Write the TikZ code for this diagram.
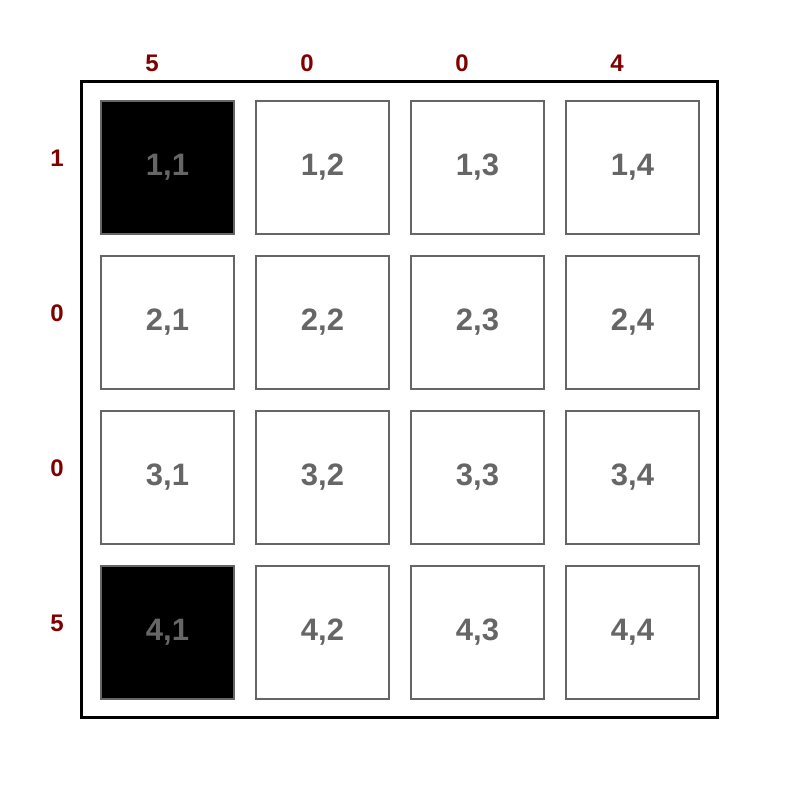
\documentclass[tikz,border=0pt]{standalone}
\usepackage{fontspec}
\setmainfont{Liberation Sans}
\usetikzlibrary{positioning}
\definecolor{gridGray}{RGB}{102, 102, 102}
\definecolor{sumRed}{RGB}{128, 0, 0}
\tikzset{
    cell/.style={
        rectangle,
        draw=gridGray,
        line width=1pt,
        minimum size=66.5pt,
        inner sep=0pt,
        font=\fontsize{15.5}{17}\selectfont\bfseries,
        text=gridGray
    },
    % shaded cells
    cell11/.style={fill=black},
    cell41/.style={fill=black},
    sumlabel/.style={
        font=\fontsize{12}{14}\selectfont\bfseries,
        text=sumRed,
        inner sep=0pt
    }
}

\begin{document}
\begin{tikzpicture}[x=0.5pt, y=-0.5pt]
    \useasboundingbox (0,0) rectangle (800,800);

    % Outer frame
    \draw[line width=1.6pt] (81.5,81.5) rectangle (717.5,717.5);

    % Cells
    \foreach \r in {1,...,4} {
        \foreach \c in {1,...,4} {
            \node[cell, cell\r\c/.try] (c\r\c) at ({167.5+155*(\c-1)}, {167.5+155*(\r-1)}) {\r,\c};
        }
    }

    % Column sums
    \foreach \c/\v in {1/5, 2/0, 3/0, 4/4} {
        \node[sumlabel] (col\c) at ({152+155*(\c-1)}, 63) {\v};
    }

    % Row sums
    \foreach \r/\v in {1/1, 2/0, 3/0, 4/5} {
        \node[sumlabel] (row\r) at (57, {158+155*(\r-1)}) {\v};
    }
\end{tikzpicture}
\end{document}
